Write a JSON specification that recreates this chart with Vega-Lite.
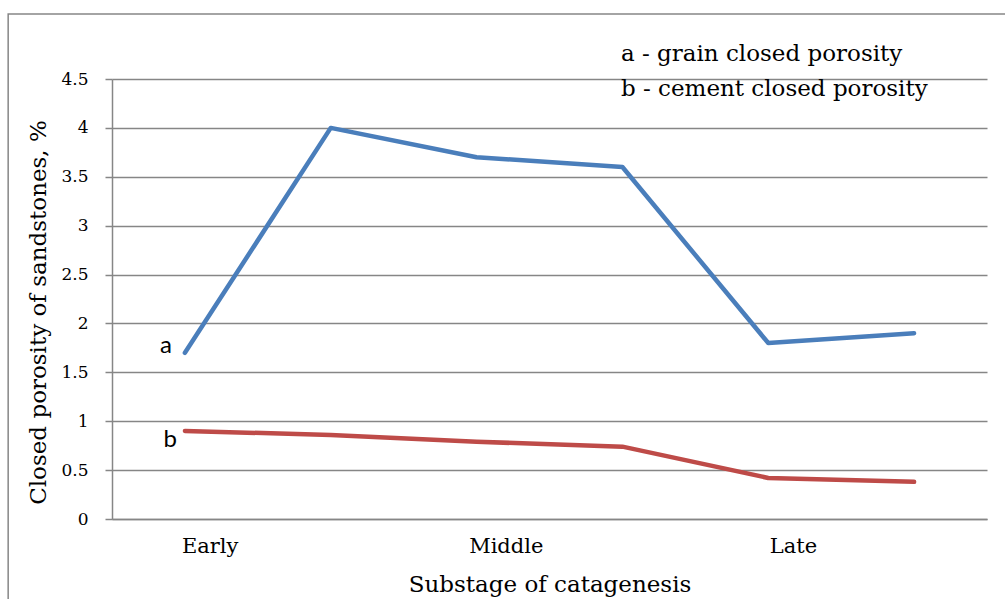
{
  "$schema": "https://vega.github.io/schema/vega-lite/v6.json",
  "width": 875,
  "height": 440,
  "autosize": {"type": "none"},
  "padding": {"left": 112, "top": 79, "right": 18, "bottom": 80},
  "background": "white",
  "config": {"view": {"stroke": null}, "font": "DejaVu Serif"},
  "datasets": {
    "series": [
      {"stage": 1, "value": 1.7, "series": "a"},
      {"stage": 2, "value": 4.0, "series": "a"},
      {"stage": 3, "value": 3.7, "series": "a"},
      {"stage": 4, "value": 3.6, "series": "a"},
      {"stage": 5, "value": 1.8, "series": "a"},
      {"stage": 6, "value": 1.9, "series": "a"},
      {"stage": 1, "value": 0.9, "series": "b"},
      {"stage": 2, "value": 0.86, "series": "b"},
      {"stage": 3, "value": 0.79, "series": "b"},
      {"stage": 4, "value": 0.74, "series": "b"},
      {"stage": 5, "value": 0.42, "series": "b"},
      {"stage": 6, "value": 0.38, "series": "b"}
    ],
    "letters": [
      {"x": 0.87, "y": 1.7, "label": "a"},
      {"x": 0.9, "y": 0.74, "label": "b"}
    ],
    "legendText": [
      {"x": 3.99, "y": 4.68, "label": "a - grain closed porosity"},
      {"x": 3.99, "y": 4.33, "label": "b - cement closed porosity"}
    ],
    "border": [
      {"x": -0.212, "x2": 8, "y": 5.164, "y2": -1}
    ]
  },
  "layer": [
    {
      "data": {"name": "border"},
      "mark": {"type": "rect", "fill": null, "stroke": "#868686", "strokeWidth": 1.5, "clip": false},
      "encoding": {
        "x": {"field": "x", "type": "quantitative", "scale": {"domain": [0.5, 6.5]}},
        "x2": {"field": "x2"},
        "y": {"field": "y", "type": "quantitative", "scale": {"domain": [0, 4.5]}},
        "y2": {"field": "y2"}
      }
    },
    {
      "data": {"name": "series"},
      "mark": {"type": "line", "strokeWidth": 4.5, "strokeCap": "round", "strokeJoin": "round"},
      "encoding": {
        "x": {
          "field": "stage", "type": "quantitative",
          "scale": {"domain": [0.5, 6.5], "nice": false, "zero": false},
          "axis": {
            "values": [1.17, 3.2, 5.17],
            "labelExpr": "datum.value < 2 ? 'Early' : (datum.value < 4 ? 'Middle' : 'Late')",
            "grid": false, "ticks": false, "domain": true, "domainColor": "#868686", "domainWidth": 1.5,
            "labelFont": "DejaVu Serif", "labelFontSize": 21, "labelColor": "black", "labelPadding": 16,
            "labelFlush": false,
            "title": "Substage of catagenesis", "titleFont": "DejaVu Serif", "titleFontSize": 23,
            "titleFontWeight": "normal", "titleColor": "black", "titleBaseline": "alphabetic", "titleY": 72
          }
        },
        "y": {
          "field": "value", "type": "quantitative",
          "scale": {"domain": [0, 4.5], "nice": false},
          "axis": {
            "values": [0, 0.5, 1, 1.5, 2, 2.5, 3, 3.5, 4, 4.5],
            "labelExpr": "datum.value",
            "grid": true, "gridColor": "#868686", "gridWidth": 1.5,
            "domain": true, "domainColor": "#868686", "domainWidth": 1.5,
            "ticks": true, "tickColor": "#868686", "tickSize": 7, "tickWidth": 1.5,
            "labelFont": "DejaVu Serif", "labelFontSize": 17, "labelColor": "black", "labelPadding": 17,
            "title": "Closed porosity of sandstones, %", "titleFont": "DejaVu Serif", "titleFontSize": 23,
            "titleFontWeight": "normal", "titleColor": "black", "titleBaseline": "middle", "titleX": -74, "titleY": 233
          }
        },
        "color": {
          "field": "series", "type": "nominal",
          "scale": {"domain": ["a", "b"], "range": ["#4A7EBB", "#BE4B48"]},
          "legend": null
        }
      }
    },
    {
      "data": {"name": "letters"},
      "mark": {"type": "text", "font": "Lato", "fontSize": 24, "align": "center", "baseline": "alphabetic", "color": "black"},
      "encoding": {
        "x": {"field": "x", "type": "quantitative"},
        "y": {"field": "y", "type": "quantitative"},
        "text": {"field": "label"}
      }
    },
    {
      "data": {"name": "legendText"},
      "mark": {"type": "text", "font": "DejaVu Serif", "fontSize": 23, "align": "left", "baseline": "alphabetic", "color": "black", "clip": false},
      "encoding": {
        "x": {"field": "x", "type": "quantitative"},
        "y": {"field": "y", "type": "quantitative"},
        "text": {"field": "label"}
      }
    }
  ]
}
